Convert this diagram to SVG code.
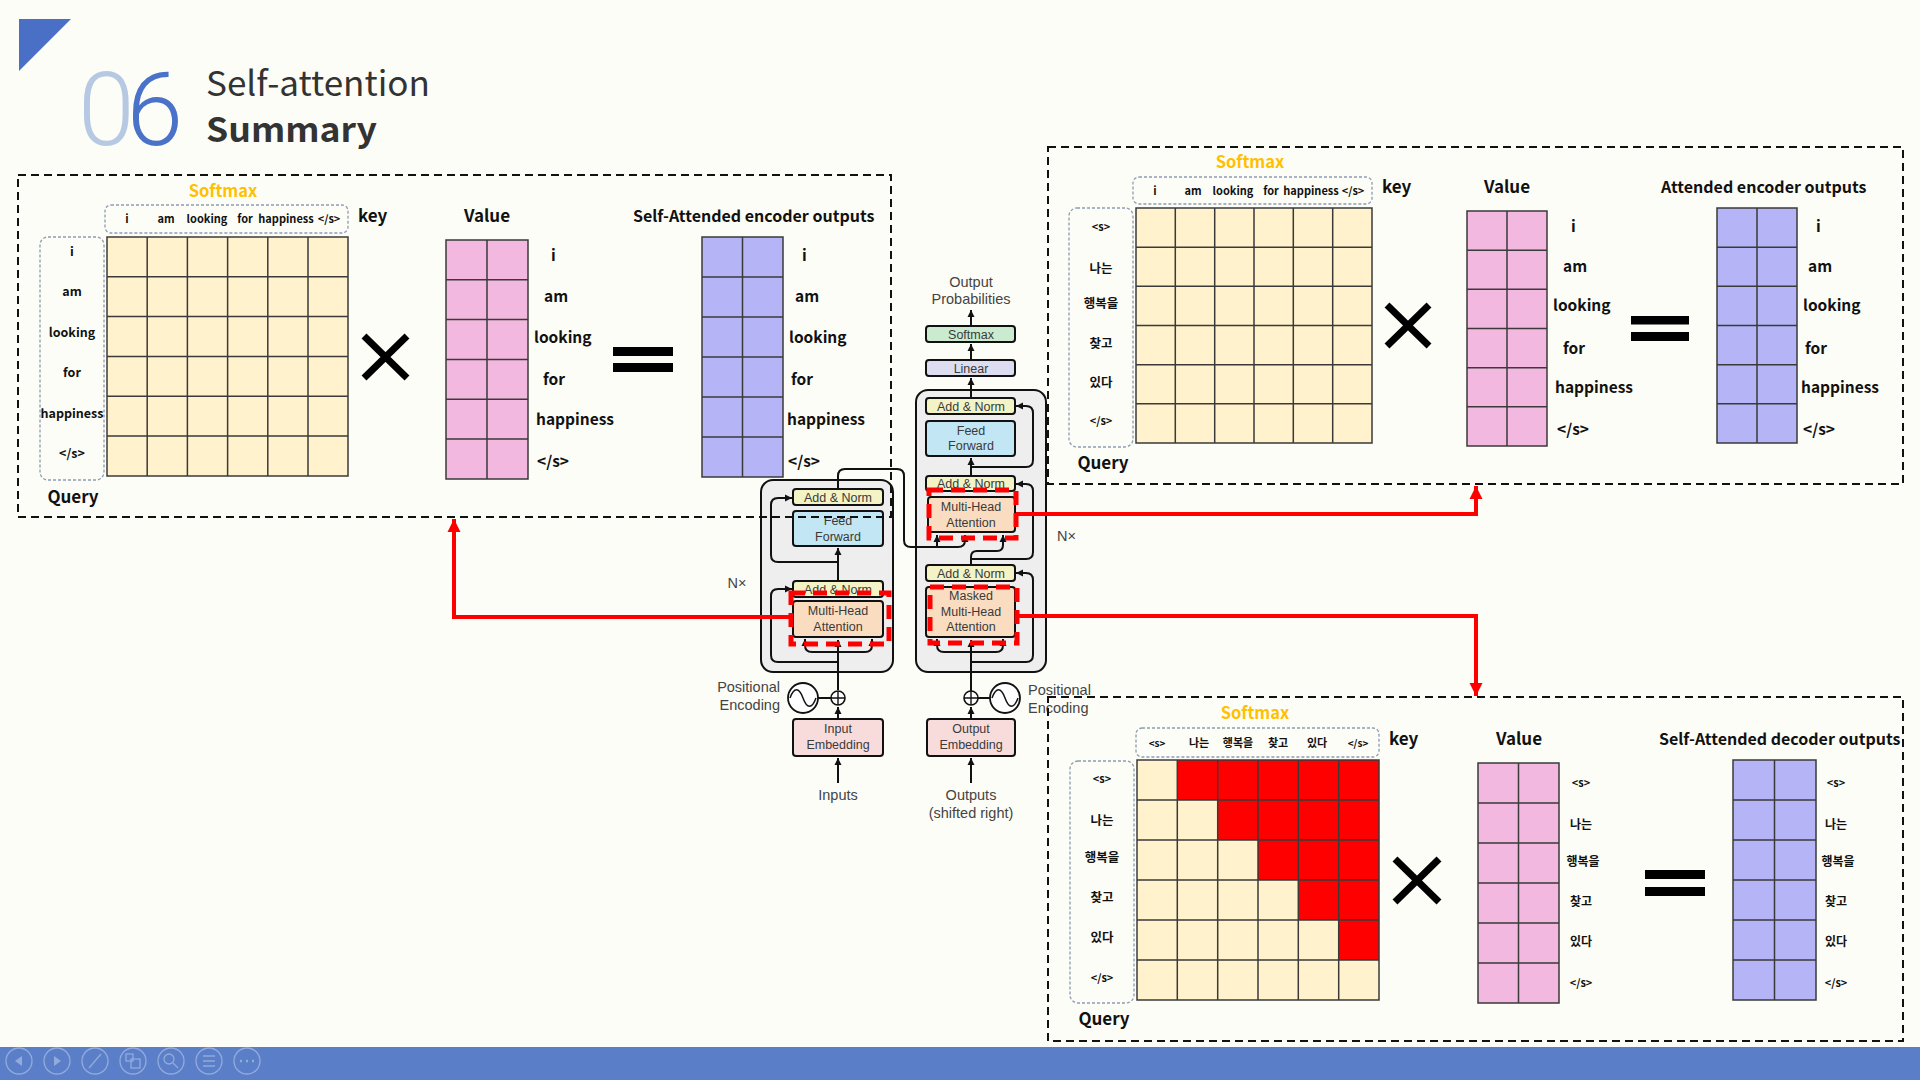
<svg xmlns="http://www.w3.org/2000/svg" width="1920" height="1080" viewBox="0 0 1920 1080">
<defs>
<marker id="ah" markerUnits="userSpaceOnUse" markerWidth="8" markerHeight="8" refX="7" refY="4" orient="auto"><path d="M0,0.5 L7,4 L0,7.5 z" fill="#111"/></marker>
<marker id="rah" markerUnits="userSpaceOnUse" markerWidth="14" markerHeight="14" refX="13" refY="7" orient="auto"><path d="M0,0.5 L13,7 L0,13.5 z" fill="#ff0000"/></marker>
<style>
.t{font-family:"Noto Sans CJK KR","Noto Sans",sans-serif;font-weight:700;fill:#111}
.hdr{font-size:16px}
.sm{font-size:16.5px;fill:#FFC000;text-anchor:middle}
.kl{font-size:11px;text-anchor:middle}
.ql{font-size:12.5px;text-anchor:middle}
.vl{font-size:15.5px}
.vk{font-size:12px;text-anchor:middle}
.big{font-size:17px}
.panel{fill:none;stroke:#111;stroke-width:2;stroke-dasharray:8 5}
.dbox{fill:none;stroke:#8d9bb3;stroke-width:1.3;stroke-dasharray:3 2}
.gy{fill:#FFF2CC}
.gp{fill:#F2B8DF}
.gv{fill:#B4B4F6}
.gl{fill:none;stroke:#3a3a3a;stroke-width:1.5}
.x{stroke:#000;stroke-width:7;fill:none}
.tf{font-family:"Liberation Sans",Arial,sans-serif;font-size:12.5px;fill:#3a3a3a;text-anchor:middle}
.tl{font-family:"Liberation Sans",Arial,sans-serif;font-size:14.5px;fill:#444}
.blk{stroke:#111;stroke-width:2;rx:3}
.an{fill:#F3F3C6}
.ff{fill:#C2E6F4}
.mh{fill:#FADDC0}
.emb{fill:#F8DCDC}
.ln{fill:none;stroke:#111;stroke-width:2}
.rd{fill:none;stroke:#ff0000;stroke-width:5;stroke-dasharray:14 8}
.rc{fill:none;stroke:#ff0000;stroke-width:4}
.ic{fill:none;stroke:#93abdc;stroke-width:1.3}
</style>
</defs>
<rect width="1920" height="1080" fill="#FDFDF7"/>

<g id="title">
<polygon points="19,19 71,19 19,71" fill="#4A70C6"/>
<text x="78" y="145" font-family="Roboto,'Liberation Sans',sans-serif" font-weight="300" font-size="102" fill="#B7C9E2" letter-spacing="-8">0<tspan fill="#4A72C8">6</tspan></text>
<text x="206" y="96" font-family="'Noto Sans CJK KR','Noto Sans',sans-serif" font-size="34" fill="#333" textLength="224" lengthAdjust="spacingAndGlyphs">Self-attention</text>
<text x="206" y="142" font-family="'Noto Sans CJK KR','Noto Sans',sans-serif" font-weight="700" font-size="34" fill="#333" textLength="171" lengthAdjust="spacingAndGlyphs">Summary</text>
</g>

<!-- Transformer -->
<g id="encoder">
<rect x="761" y="480" width="132" height="192" rx="12" fill="#EEEEEE" stroke="#111" stroke-width="2"/>
</g>
<g id="decoder">
<rect x="916" y="390" width="130" height="282" rx="12" fill="#EEEEEE" stroke="#111" stroke-width="2"/>
</g>

<g id="connectors">
<path class="ln" d="M838,690 V640" marker-end="url(#ah)"/>
<path class="ln" d="M838,652 H812 Q805,652 805,645 V639" marker-end="url(#ah)"/>
<path class="ln" d="M838,652 H865 Q872,652 872,645 V639" marker-end="url(#ah)"/>
<path class="ln" d="M838,662 H778 Q771,662 771,655 V596 Q771,589 778,589 H792" marker-end="url(#ah)"/>
<path class="ln" d="M838,581 V548" marker-end="url(#ah)"/>
<path class="ln" d="M838,562 H778 Q771,562 771,555 V505 Q771,498 778,498 H792" marker-end="url(#ah)"/>
<path class="ln" d="M838,489 V476 Q838,469 845,469 H897 Q904,469 904,476 V540 Q904,547 911,547 H958 Q965,547 965,540 V535" marker-end="url(#ah)"/>
<path class="ln" d="M937,547 V535" marker-end="url(#ah)"/>
<path class="ln" d="M971,691 V640" marker-end="url(#ah)"/>
<path class="ln" d="M971,652 H944 Q937,652 937,645 V639" marker-end="url(#ah)"/>
<path class="ln" d="M971,652 H996 Q1003,652 1003,645 V639" marker-end="url(#ah)"/>
<path class="ln" d="M971,662 H1026 Q1033,662 1033,655 V580 Q1033,573 1026,573 H1016" marker-end="url(#ah)"/>
<path class="ln" d="M971,565 V557 Q971,551 977,551 H997 Q1003,551 1003,545 V535" marker-end="url(#ah)"/>
<path class="ln" d="M971,559 H1026 Q1033,559 1033,552 V491 Q1033,484 1026,484 H1016" marker-end="url(#ah)"/>
<path class="ln" d="M971,476 V458" marker-end="url(#ah)"/>
<path class="ln" d="M971,467 H1026 Q1033,467 1033,460 V413 Q1033,406 1026,406 H1016" marker-end="url(#ah)"/>
<path class="ln" d="M971,398 V378" marker-end="url(#ah)"/>
<path class="ln" d="M971,360 V344" marker-end="url(#ah)"/>
<path class="ln" d="M971,326 V310" marker-end="url(#ah)"/>
<path class="ln" d="M838,783 V758" marker-end="url(#ah)"/>
<path class="ln" d="M838,719 V707" marker-end="url(#ah)"/>
<path class="ln" d="M971,783 V758" marker-end="url(#ah)"/>
<path class="ln" d="M971,719 V707" marker-end="url(#ah)"/>
<path class="ln" d="M818,698 H831"/>
<path class="ln" d="M978,698 H990"/>
</g>

<g id="enc-blocks">
<g id="enc-addnorm2"><rect class="blk an" x="793" y="489" width="90" height="16"/><text class="tf" x="838" y="502">Add &amp; Norm</text></g>
<g id="enc-ff"><rect class="blk ff" x="793" y="511" width="90" height="35"/><text class="tf" x="838" y="525">Feed</text><text class="tf" x="838" y="541">Forward</text></g>
<g id="enc-addnorm1"><rect class="blk an" x="793" y="581" width="90" height="16"/><text class="tf" x="838" y="594">Add &amp; Norm</text></g>
<g id="enc-mha"><rect class="blk mh" x="793" y="601" width="90" height="36"/><text class="tf" x="838" y="615">Multi-Head</text><text class="tf" x="838" y="631">Attention</text></g>
<g id="enc-emb"><rect class="blk emb" x="793" y="719" width="90" height="37"/><text class="tf" x="838" y="733">Input</text><text class="tf" x="838" y="749">Embedding</text></g>
<g id="enc-pe"><circle cx="838" cy="698" r="7" fill="#fff" stroke="#111" stroke-width="1.6"/><path d="M831,698 H845 M838,691 V705" stroke="#111" stroke-width="1.4"/>
<circle cx="803" cy="698" r="15" fill="#fff" stroke="#111" stroke-width="1.8"/><path d="M790,698 C794,687 799,687 803,698 S812,709 816,698" fill="none" stroke="#111" stroke-width="1.5"/></g>
<text class="tl" x="780" y="692" text-anchor="end">Positional</text>
<text class="tl" x="780" y="710" text-anchor="end">Encoding</text>
<text class="tl" x="838" y="800" text-anchor="middle">Inputs</text>
<text class="tl" x="737" y="588" text-anchor="middle">N×</text>
</g>

<g id="dec-blocks">
<g id="dec-softmax"><rect class="blk" x="926" y="326" width="89" height="16" fill="#CBEBD1"/><text class="tf" x="971" y="339" font-size="13.5">Softmax</text></g>
<g id="dec-linear"><rect class="blk" x="926" y="360" width="89" height="16" fill="#DCDDF0"/><text class="tf" x="971" y="373" font-size="13.5">Linear</text></g>
<g id="dec-addnorm3"><rect class="blk an" x="926" y="398" width="89" height="16"/><text class="tf" x="971" y="411">Add &amp; Norm</text></g>
<g id="dec-ff"><rect class="blk ff" x="926" y="421" width="89" height="35"/><text class="tf" x="971" y="435">Feed</text><text class="tf" x="971" y="450">Forward</text></g>
<g id="dec-addnorm2"><rect class="blk an" x="926" y="476" width="89" height="15"/><text class="tf" x="971" y="488">Add &amp; Norm</text></g>
<g id="dec-mha"><rect class="blk mh" x="928" y="497" width="87" height="35"/><text class="tf" x="971" y="511">Multi-Head</text><text class="tf" x="971" y="527">Attention</text></g>
<g id="dec-addnorm1"><rect class="blk an" x="926" y="565" width="89" height="16"/><text class="tf" x="971" y="578">Add &amp; Norm</text></g>
<g id="dec-masked"><rect class="blk mh" x="926" y="587" width="89" height="50"/><text class="tf" x="971" y="600">Masked</text><text class="tf" x="971" y="616">Multi-Head</text><text class="tf" x="971" y="631">Attention</text></g>
<g id="dec-emb"><rect class="blk emb" x="927" y="719" width="88" height="37"/><text class="tf" x="971" y="733">Output</text><text class="tf" x="971" y="749">Embedding</text></g>
<g id="dec-pe"><circle cx="971" cy="698" r="7" fill="#fff" stroke="#111" stroke-width="1.6"/><path d="M964,698 H978 M971,691 V705" stroke="#111" stroke-width="1.4"/>
<circle cx="1005" cy="698" r="15" fill="#fff" stroke="#111" stroke-width="1.8"/><path d="M992,698 C996,687 1001,687 1005,698 S1014,709 1018,698" fill="none" stroke="#111" stroke-width="1.5"/></g>
<text class="tl" x="971" y="287" text-anchor="middle">Output</text>
<text class="tl" x="971" y="304" text-anchor="middle">Probabilities</text>
<text class="tl" x="1028" y="695">Positional</text>
<text class="tl" x="1028" y="713">Encoding</text>
<text class="tl" x="971" y="800" text-anchor="middle">Outputs</text>
<text class="tl" x="971" y="818" text-anchor="middle">(shifted right)</text>
<text class="tl" x="1057" y="541">N×</text>
</g>

<g id="red-highlights">
<rect class="rd" x="791" y="593" width="98" height="51"/>
<rect class="rd" x="929" y="490" width="87" height="48"/>
<rect class="rd" x="930" y="587" width="87" height="56"/>
</g>

<g id="panel-encoder-self">
<rect class="panel" x="18" y="175" width="873" height="342"/>
<text class="t sm" x="223" y="197">Softmax</text>
<rect class="dbox" x="105" y="205" width="243" height="28" rx="6"/>
<g class="t kl"><text x="127" y="223">i</text><text x="166" y="223">am</text><text x="207" y="223">looking</text><text x="245" y="223">for</text><text x="286" y="223">happiness</text><text x="329" y="223">&lt;/s&gt;</text></g>
<text class="t big" x="358" y="222">key</text>
<rect class="dbox" x="40" y="237" width="64" height="243" rx="8"/>
<g class="t ql"><text x="72" y="256">i</text><text x="72" y="296">am</text><text x="72" y="337">looking</text><text x="72" y="377">for</text><text x="72" y="418">happiness</text><text x="72" y="458">&lt;/s&gt;</text></g>
<text class="t big" x="73" y="503" text-anchor="middle">Query</text>
<rect class="gy" x="107" y="237" width="241" height="239"/>
<path class="gl" d="M107,237 H348 V476 H107 Z M147.2,237 V476 M187.4,237 V476 M227.6,237 V476 M267.8,237 V476 M308,237 V476 M107,276.8 H348 M107,316.6 H348 M107,356.4 H348 M107,396.2 H348 M107,436 H348"/>
<path class="x" d="M364,336 L407,378 M407,336 L364,378"/>
<text class="t big" x="487" y="222" text-anchor="middle">Value</text>
<rect class="gp" x="446" y="240" width="82" height="239"/>
<path class="gl" d="M446,240 H528 V479 H446 Z M487,240 V479 M446,279.8 H528 M446,319.6 H528 M446,359.4 H528 M446,399.2 H528 M446,439 H528"/>
<g class="t vl"><text x="551" y="261">i</text><text x="544" y="302">am</text><text x="534" y="343">looking</text><text x="543" y="385">for</text><text x="536" y="425">happiness</text><text x="537" y="467">&lt;/s&gt;</text></g>
<rect x="613" y="347" width="60" height="9" fill="#000"/><rect x="613" y="363" width="60" height="9" fill="#000"/>
<text class="t hdr" x="633" y="222">Self-Attended encoder outputs</text>
<rect class="gv" x="702" y="237" width="81" height="240"/>
<path class="gl" d="M702,237 H783 V477 H702 Z M742.5,237 V477 M702,277 H783 M702,317 H783 M702,357 H783 M702,397 H783 M702,437 H783"/>
<g class="t vl"><text x="802" y="261">i</text><text x="795" y="302">am</text><text x="789" y="343">looking</text><text x="791" y="385">for</text><text x="787" y="425">happiness</text><text x="788" y="467">&lt;/s&gt;</text></g>
</g>

<g id="panel-cross">
<rect class="panel" x="1048" y="147" width="855" height="337"/>
<text class="t sm" x="1250" y="168">Softmax</text>
<rect class="dbox" x="1133" y="177" width="239" height="27" rx="6"/>
<g class="t kl"><text x="1155" y="195">i</text><text x="1193" y="195">am</text><text x="1233" y="195">looking</text><text x="1271" y="195">for</text><text x="1311" y="195">happiness</text><text x="1353" y="195">&lt;/s&gt;</text></g>
<text class="t big" x="1382" y="193">key</text>
<rect class="dbox" x="1069" y="208" width="64" height="239" rx="8"/>
<g class="t ql"><text x="1101" y="231" font-size="11">&lt;s&gt;</text><text x="1101" y="273">나는</text><text x="1101" y="308">행복을</text><text x="1101" y="348">찾고</text><text x="1101" y="387">있다</text><text x="1101" y="425" font-size="11">&lt;/s&gt;</text></g>
<text class="t big" x="1103" y="469" text-anchor="middle">Query</text>
<rect class="gy" x="1136" y="208" width="236" height="235"/>
<path class="gl" d="M1136,208 H1372 V443 H1136 Z M1175.3,208 V443 M1214.7,208 V443 M1254,208 V443 M1293.3,208 V443 M1332.7,208 V443 M1136,247.2 H1372 M1136,286.3 H1372 M1136,325.5 H1372 M1136,364.7 H1372 M1136,403.8 H1372"/>
<path class="x" d="M1387,305 L1429,346 M1429,305 L1387,346"/>
<text class="t big" x="1507" y="193" text-anchor="middle">Value</text>
<rect class="gp" x="1467" y="211" width="80" height="235"/>
<path class="gl" d="M1467,211 H1547 V446 H1467 Z M1507,211 V446 M1467,250.2 H1547 M1467,289.3 H1547 M1467,328.5 H1547 M1467,367.7 H1547 M1467,406.8 H1547"/>
<g class="t vl"><text x="1571" y="232">i</text><text x="1563" y="272">am</text><text x="1553" y="311">looking</text><text x="1563" y="354">for</text><text x="1555" y="393">happiness</text><text x="1557" y="435">&lt;/s&gt;</text></g>
<rect x="1631" y="316" width="58" height="8.5" fill="#000"/><rect x="1631" y="332" width="58" height="9" fill="#000"/>
<text class="t hdr" x="1661" y="193">Attended encoder outputs</text>
<rect class="gv" x="1717" y="208" width="80" height="235"/>
<path class="gl" d="M1717,208 H1797 V443 H1717 Z M1757,208 V443 M1717,247.2 H1797 M1717,286.3 H1797 M1717,325.5 H1797 M1717,364.7 H1797 M1717,403.8 H1797"/>
<g class="t vl"><text x="1816" y="232">i</text><text x="1808" y="272">am</text><text x="1803" y="311">looking</text><text x="1805" y="354">for</text><text x="1801" y="393">happiness</text><text x="1803" y="435">&lt;/s&gt;</text></g>
</g>

<g id="panel-decoder-self">
<rect class="panel" x="1048" y="697" width="855" height="344"/>
<text class="t sm" x="1255" y="719">Softmax</text>
<rect class="dbox" x="1136" y="728" width="243" height="29" rx="6"/>
<g class="t kl" font-size="10.5"><text x="1157" y="747" font-size="10">&lt;s&gt;</text><text x="1199" y="747">나는</text><text x="1238" y="747">행복을</text><text x="1278" y="747">찾고</text><text x="1317" y="747">있다</text><text x="1358" y="747" font-size="10">&lt;/s&gt;</text></g>
<text class="t big" x="1389" y="745">key</text>
<rect class="dbox" x="1070" y="761" width="64" height="242" rx="8"/>
<g class="t ql"><text x="1102" y="783" font-size="11">&lt;s&gt;</text><text x="1102" y="825">나는</text><text x="1102" y="862">행복을</text><text x="1102" y="902">찾고</text><text x="1102" y="942">있다</text><text x="1102" y="982" font-size="11">&lt;/s&gt;</text></g>
<text class="t big" x="1104" y="1025" text-anchor="middle">Query</text>
<rect class="gy" x="1137" y="760" width="242" height="240"/>
<path d="M1177.3,760 H1379 V960 H1338.7 V920 H1298.3 V880 H1258 V840 H1217.7 V800 H1177.3 Z" fill="#ff0000"/>
<path class="gl" d="M1137,760 H1379 V1000 H1137 Z M1177.3,760 V1000 M1217.7,760 V1000 M1258,760 V1000 M1298.3,760 V1000 M1338.7,760 V1000 M1137,800 H1379 M1137,840 H1379 M1137,880 H1379 M1137,920 H1379 M1137,960 H1379"/>
<path class="x" d="M1395,859 L1439,902 M1439,859 L1395,902"/>
<text class="t big" x="1519" y="745" text-anchor="middle">Value</text>
<rect class="gp" x="1478" y="763" width="81" height="240"/>
<path class="gl" d="M1478,763 H1559 V1003 H1478 Z M1518.5,763 V1003 M1478,803 H1559 M1478,843 H1559 M1478,883 H1559 M1478,923 H1559 M1478,963 H1559"/>
<g class="t vk"><text x="1581" y="787" font-size="11">&lt;s&gt;</text><text x="1581" y="829">나는</text><text x="1583" y="866">행복을</text><text x="1581" y="906">찾고</text><text x="1581" y="946">있다</text><text x="1581" y="987" font-size="11">&lt;/s&gt;</text></g>
<rect x="1645" y="870" width="60" height="9" fill="#000"/><rect x="1645" y="887" width="60" height="9" fill="#000"/>
<text class="t hdr" x="1659" y="745">Self-Attended decoder outputs</text>
<rect class="gv" x="1733" y="760" width="83" height="240"/>
<path class="gl" d="M1733,760 H1816 V1000 H1733 Z M1774.5,760 V1000 M1733,800 H1816 M1733,840 H1816 M1733,880 H1816 M1733,920 H1816 M1733,960 H1816"/>
<g class="t vk"><text x="1836" y="787" font-size="11">&lt;s&gt;</text><text x="1836" y="829">나는</text><text x="1838" y="866">행복을</text><text x="1836" y="906">찾고</text><text x="1836" y="946">있다</text><text x="1836" y="987" font-size="11">&lt;/s&gt;</text></g>
</g>

<g id="red-connectors">
<path class="rc" d="M791,617 H454 V519" marker-end="url(#rah)"/>
<path class="rc" d="M1016,514 H1476 V486" marker-end="url(#rah)"/>
<path class="rc" d="M1017,616 H1476 V696" marker-end="url(#rah)"/>
</g>

<g id="toolbar">
<rect x="0" y="1047" width="1920" height="33" fill="#5B7EC8"/>
<circle class="ic" cx="19" cy="1061" r="13"/><path d="M22,1056 L15,1061 L22,1066 z" fill="#93abdc"/>
<circle class="ic" cx="57" cy="1061" r="13"/><path d="M54,1056 L61,1061 L54,1066 z" fill="#93abdc"/>
<circle class="ic" cx="95" cy="1061" r="13"/><path class="ic" d="M89,1068 L101,1054"/>
<circle class="ic" cx="133" cy="1061" r="13"/><rect class="ic" x="126" y="1054" width="7" height="7"/><rect class="ic" x="131" y="1059" width="9" height="9"/>
<circle class="ic" cx="171" cy="1061" r="13"/><circle class="ic" cx="169" cy="1059" r="5"/><path class="ic" d="M173,1063 L178,1068"/>
<circle class="ic" cx="209" cy="1061" r="13"/><path class="ic" d="M203,1056 H215 M203,1061 H215 M203,1066 H215"/>
<circle class="ic" cx="247" cy="1061" r="13"/><path d="M240,1061 h2 M246,1061 h2 M252,1061 h2" stroke="#93abdc" stroke-width="2.5"/>
</g>
</svg>
